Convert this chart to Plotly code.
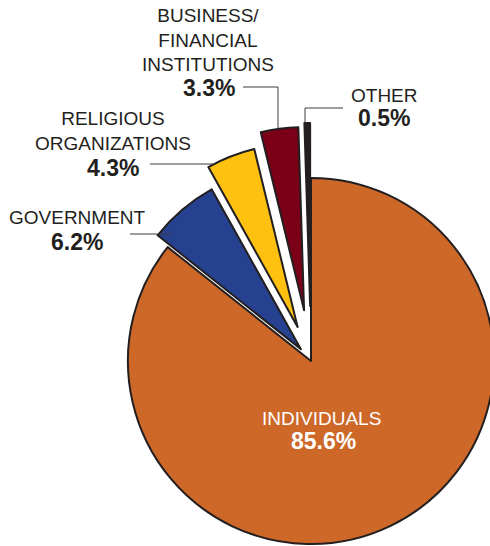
import plotly.graph_objects as go

# ---- data ----
categories = ["INDIVIDUALS", "GOVERNMENT", "RELIGIOUS ORGANIZATIONS",
              "BUSINESS/FINANCIAL INSTITUTIONS", "OTHER"]
values = [85.6, 6.2, 4.3, 3.3, 0.5]
label_lines = ["INDIVIDUALS", "GOVERNMENT", "RELIGIOUS<br>ORGANIZATIONS",
               "BUSINESS/<br>FINANCIAL<br>INSTITUTIONS", "OTHER"]
colors = ["#CD6829", "#26418F", "#FEC10F", "#7B0017", "#231F20"]
pulls = [0, 0.085, 0.2, 0.28, 0.3]

# ---- canvas (figure larger than window; pie centre placed at 311,361) ----
W, H = 549, 599
BOX = 476
FONT = "Liberation Sans, Arial, sans-serif"
TXT = "#231F20"


def px(x):
    return x / W


def py(y):
    return 1 - y / H


fig = go.Figure()
fig.add_trace(go.Pie(
    labels=categories, values=values, sort=False, direction="clockwise",
    rotation=0, pull=pulls, textinfo="none", hoverinfo="label+percent",
    marker=dict(colors=colors, line=dict(color="#231F20", width=2)),
    domain=dict(x=[(W - BOX) / W, 1], y=[0, BOX / H]),
    showlegend=False,
))

# label positions (pixel centres) : name line, value line
label_pos = [
    ((321, 418), (323, 441)),
    ((77, 217), (77, 242)),
    ((113, 131), (113, 168)),
    ((208, 40), (209, 88)),
    ((384, 95), (384, 118)),
]
anns = []
for i, (lp, vp) in enumerate(label_pos):
    col = "white" if i == 0 else TXT
    anns.append(dict(x=px(lp[0]), y=py(lp[1]), xref="paper", yref="paper",
                     text=label_lines[i], showarrow=False, align="center",
                     xanchor="center", yanchor="middle",
                     font=dict(family=FONT, size=19, color=col)))
    anns.append(dict(x=px(vp[0]), y=py(vp[1]), xref="paper", yref="paper",
                     text=f"<b>{values[i]}%</b>", showarrow=False,
                     xanchor="center", yanchor="middle",
                     font=dict(family=FONT, size=23, color=col)))

# leader lines (pixel polylines)
leaders = [
    [(130, 234), (172, 234)],
    [(150, 164), (213, 164)],
    [(243, 87), (278, 87), (278, 128)],
    [(343, 108), (305, 108), (305, 123)],
]
shapes = []
for pts in leaders:
    for (x0, y0), (x1, y1) in zip(pts[:-1], pts[1:]):
        shapes.append(dict(type="line", xref="paper", yref="paper",
                           x0=px(x0), y0=py(y0), x1=px(x1), y1=py(y1),
                           line=dict(color="#3A3A3A", width=1)))

fig.update_layout(
    width=W, height=H, margin=dict(l=0, r=0, t=0, b=0),
    paper_bgcolor="white", plot_bgcolor="white",
    annotations=anns, shapes=shapes,
)

fig.write_html(
    "out.html",
    post_script="document.body.style.margin='0';"
                "document.body.style.overflow='hidden';"
                "document.documentElement.style.overflow='hidden';",
)
